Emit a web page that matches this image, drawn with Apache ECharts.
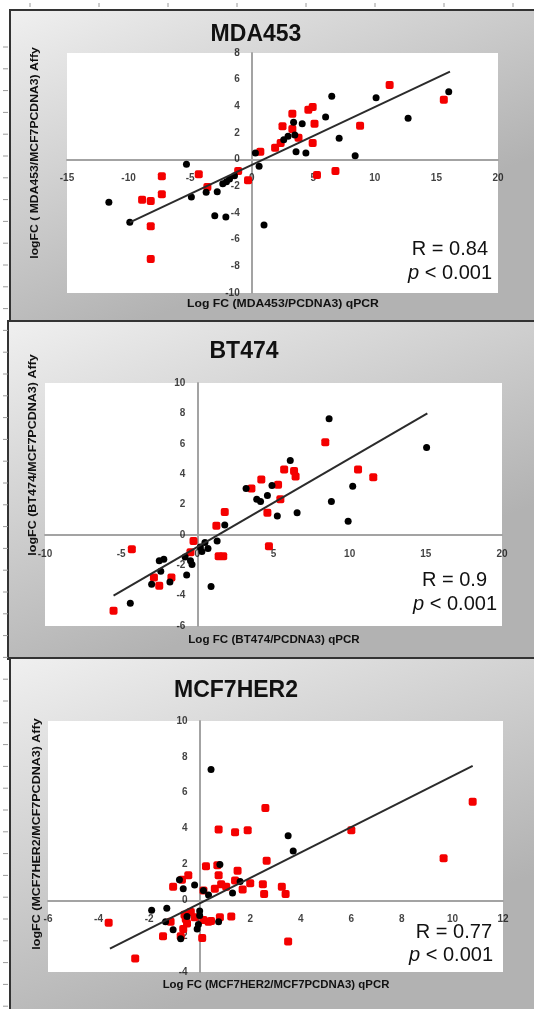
<!DOCTYPE html>
<html>
<head>
<meta charset="utf-8">
<script src="https://cdn.jsdelivr.net/npm/echarts@6/dist/echarts.min.js"></script>
<style>
  html, body { margin: 0; padding: 0; background: #fff; }
  #chart { width: 534px; height: 1009px; }
</style>
</head>
<body>
<div id="chart"></div>
<script>
// MDA453 panel
const mdaBlack = [
  [-11.6, -3.2], [-9.9, -4.7], [-5.3, -0.35], [-4.9, -2.8], [-3.7, -2.45], [-2.8, -2.4],
  [-3.0, -4.2], [-2.1, -4.3], [-2.35, -1.8], [-2.05, -1.65], [-1.8, -1.45], [-1.4, -1.2],
  [0.6, -0.5], [0.3, 0.5], [1.0, -4.9], [2.6, 1.5], [2.95, 1.75], [3.5, 1.85], [3.6, 0.6],
  [3.4, 2.8], [4.1, 2.7], [4.4, 0.5], [6.0, 3.2], [6.5, 4.75], [7.1, 1.6], [8.4, 0.3],
  [10.1, 4.65], [12.7, 3.1], [16.0, 5.1]
];
const mdaRed = [
  [-8.9, -3.0], [-8.2, -3.1], [-7.3, -1.25], [-7.3, -2.6], [-8.2, -5.0], [-8.2, -7.45],
  [-4.3, -1.1], [-3.6, -2.05], [-1.1, -0.85], [-0.3, -1.55], [0.7, 0.6], [1.9, 0.9],
  [2.35, 1.25], [2.5, 2.5], [3.3, 3.45], [3.3, 2.3], [3.8, 1.65], [4.6, 3.75], [4.95, 3.95],
  [5.1, 2.7], [4.95, 1.25], [5.3, -1.15], [6.8, -0.85], [8.8, 2.55], [11.2, 5.6], [15.6, 4.5]
];
const mdaFit = [[-9.9, -4.7], [16.1, 6.6]];

// BT474 panel
const btBlack = [
  [-4.4, -4.5], [-3.0, -3.25], [-2.5, -1.7], [-2.2, -1.6], [-2.4, -2.4], [-1.8, -3.1],
  [-0.8, -1.45], [-0.45, -1.7], [-0.35, -1.95], [-0.7, -2.65], [0.2, -0.8], [0.5, -0.5],
  [0.7, -0.9], [0.3, -1.1], [0.9, -3.4], [1.3, -0.4], [1.8, 0.65], [3.2, 3.05], [3.9, 2.35],
  [4.15, 2.2], [4.6, 2.6], [4.9, 3.25], [5.25, 1.25], [6.1, 4.9], [6.55, 1.45], [8.65, 7.65],
  [8.8, 2.2], [9.9, 0.9], [10.2, 3.2], [15.05, 5.75]
];
const btRed = [
  [-5.5, -5.0], [-4.3, -0.95], [-2.85, -2.8], [-2.5, -3.35], [-1.7, -2.8], [-0.45, -1.15],
  [-0.25, -0.4], [1.4, -1.4], [1.7, -1.4], [1.25, 0.6], [1.8, 1.5], [3.55, 3.05], [4.2, 3.65],
  [4.6, 1.45], [4.7, -0.75], [5.3, 3.3], [5.45, 2.35], [5.7, 4.3], [6.35, 4.2], [6.45, 3.85],
  [8.4, 6.1], [10.55, 4.3], [11.55, 3.8]
];
const btFit = [[-5.5, -4.0], [15.1, 8.0]];

// MCF7HER2 panel
const mcfBlack = [
  [0.45, 7.3], [3.5, 3.6], [3.7, 2.75], [0.8, 2.0], [-0.8, 1.15], [-0.2, 0.85], [-0.65, 0.65],
  [0.35, 0.3], [0.15, 0.55], [1.3, 0.4], [1.6, 1.05], [-1.9, -0.55], [-1.3, -0.45],
  [-1.35, -1.2], [-1.05, -1.65], [-0.75, -2.15], [0.0, -0.6], [0.0, -0.85], [-0.1, -1.6],
  [-0.05, -1.35], [0.75, -1.2], [-0.5, -0.9]
];
const mcfRed = [
  [-3.6, -1.25], [-2.55, -3.25], [-1.45, -2.0], [-1.15, -1.2], [-1.05, 0.75], [-0.7, 1.15],
  [-0.45, 1.4], [-0.75, -2.0], [-0.65, -1.6], [-0.55, -1.05], [-0.35, -0.65], [-0.2, -0.95],
  [-0.5, -1.3], [-0.6, -0.8], [0.1, -2.1], [0.15, -1.1], [0.35, -1.2], [0.45, -1.15],
  [0.15, 0.55], [0.25, 1.9], [0.7, 1.95], [0.75, 1.4], [0.75, 3.95], [0.6, 0.65], [0.85, 0.9],
  [1.05, 0.75], [0.8, -0.95], [1.25, -0.9], [1.4, 1.1], [1.5, 1.65], [1.4, 3.8], [1.9, 3.9],
  [1.7, 0.6], [2.0, 0.95], [2.5, 0.9], [2.55, 0.35], [2.65, 2.2], [2.6, 5.15], [3.25, 0.75],
  [3.4, 0.35], [3.5, -2.3], [6.0, 3.9], [9.65, 2.35], [10.8, 5.5]
];
const mcfFit = [[-3.55, -2.7], [10.8, 7.5]];

const titles = ['MDA453', 'BT474', 'MCF7HER2'];
const rLabels = ['R = 0.84', 'R = 0.9', 'R = 0.77'];
const xNames = [
  'Log FC (MDA453/PCDNA3) qPCR',
  'Log FC (BT474/PCDNA3) qPCR',
  'Log FC (MCF7HER2/MCF7PCDNA3) qPCR'
];
const yNames = [
  'logFC ( MDA453/MCF7PCDNA3) Affy',
  'logFC (BT474/MCF7PCDNA3) Affy',
  'logFC (MCF7HER2/MCF7PCDNA3) Affy'
];
// tick labels, drawn next to the zero lines like Excel does
const xTicks = [
  [-15, -10, -5, 0, 5, 10, 15, 20],
  [-10, -5, 0, 5, 10, 15, 20],
  [-6, -4, -2, 0, 2, 4, 6, 8, 10, 12]
];
const yTicks = [
  [-10, -8, -6, -4, -2, 0, 2, 4, 6, 8],
  [-6, -4, -2, 0, 2, 4, 6, 8, 10],
  [-4, -2, 0, 2, 4, 6, 8, 10]
];

const blackSets = [mdaBlack, btBlack, mcfBlack];
const redSets = [mdaRed, btRed, mcfRed];
const fitSets = [mdaFit, btFit, mcfFit];

// page layout, pixels (sx/sy = horizontal stretch of the axis titles)
const panels = [
  { box: [10, 10, 530, 312], grid: [67, 53, 431, 240], title: [256, 35], r: [488, 249], p: [492, 273], yl: [35, 153], xl: [283, 304], sx: 1.22, sy: 1.22 },
  { box: [8, 321, 532, 338], grid: [45, 383, 457, 243], title: [244, 352], r: [487, 580], p: [497, 604], yl: [33, 455], xl: [274, 640], sx: 1.16, sy: 1.25 },
  { box: [10, 658, 530, 360], grid: [48, 721, 455, 251], title: [236, 691], r: [492, 932], p: [493, 955], yl: [37, 834], xl: [276, 985], sx: 1.14, sy: 1.25 }
];

const FONT = 'Liberation Sans, Arial, sans-serif';

const tickLabelStyle = {
  show: true,
  fontSize: 10,
  fontWeight: 'bold',
  fontFamily: FONT,
  color: '#111',
};

const grid = [];
const xAxis = [];
const yAxis = [];
const series = [];
const graphic = [];

panels.forEach((pn, i) => {
  const axisBase = {
    type: 'value',
    gridIndex: i,
    axisLine: { onZero: true, lineStyle: { color: '#a3a3a3', width: 2 } },
    axisTick: { show: false },
    splitLine: { show: false },
    axisLabel: { show: false },
  };
  grid.push({
    left: pn.grid[0], top: pn.grid[1], width: pn.grid[2], height: pn.grid[3],
    show: true, backgroundColor: '#fff', borderWidth: 0,
  });
  xAxis.push(Object.assign({}, axisBase, {
    min: xTicks[i][0], max: xTicks[i][xTicks[i].length - 1], interval: xTicks[i][1] - xTicks[i][0],
  }));
  yAxis.push(Object.assign({}, axisBase, {
    min: yTicks[i][0], max: yTicks[i][yTicks[i].length - 1], interval: yTicks[i][1] - yTicks[i][0],
  }));

  // tick labels placed on the zero lines
  series.push({
    type: 'scatter', xAxisIndex: i, yAxisIndex: i, silent: true,
    symbolSize: 0, z: 2,
    label: Object.assign({}, tickLabelStyle, {
      position: 'bottom', distance: 14, formatter: (p) => String(p.value[0]),
    }),
    data: xTicks[i].map(t => [t, 0]),
  });
  series.push({
    type: 'scatter', xAxisIndex: i, yAxisIndex: i, silent: true,
    symbolSize: 0, z: 2,
    label: Object.assign({}, tickLabelStyle, {
      position: 'left', distance: 12, formatter: (p) => String(p.value[1]),
    }),
    data: yTicks[i].map(t => [0, t]),
  });

  series.push({
    type: 'scatter', xAxisIndex: i, yAxisIndex: i,
    symbol: 'roundRect', symbolSize: 8,
    itemStyle: { color: '#f40000', opacity: 1 },
    data: redSets[i], z: 3,
  });
  series.push({
    type: 'scatter', xAxisIndex: i, yAxisIndex: i,
    symbol: 'circle', symbolSize: 7,
    itemStyle: { color: '#000', opacity: 1 },
    data: blackSets[i], z: 4,
  });
  series.push({
    type: 'line', xAxisIndex: i, yAxisIndex: i,
    showSymbol: false, silent: true,
    lineStyle: { color: '#2b2b2b', width: 2 },
    data: fitSets[i], z: 5,
  });

  graphic.push({
    type: 'rect', z: -10,
    shape: { x: pn.box[0], y: pn.box[1], width: pn.box[2], height: pn.box[3] },
    style: {
      fill: new echarts.graphic.LinearGradient(0, 0, 0.25, 1, [
        { offset: 0, color: '#f0f0f0' },
        { offset: 1, color: '#b2b2b2' },
      ]),
      stroke: '#333', lineWidth: 2,
    },
  });
  graphic.push({
    type: 'text', z: 50, x: pn.title[0], y: pn.title[1],
    style: { text: titles[i], font: 'bold 23px ' + FONT, fill: '#111', align: 'center', verticalAlign: 'middle' },
  });
  graphic.push({
    type: 'text', z: 50, x: pn.r[0], y: pn.r[1],
    style: { text: rLabels[i], font: '20px ' + FONT, fill: '#111', align: 'right', verticalAlign: 'middle' },
  });
  graphic.push({
    type: 'text', z: 50, x: pn.p[0], y: pn.p[1],
    style: {
      text: '{i|p} < 0.001', font: '20px ' + FONT, fill: '#111', align: 'right', verticalAlign: 'middle',
      rich: { i: { fontStyle: 'italic', fontSize: 20, fontFamily: FONT, fill: '#111' } },
    },
  });
  graphic.push({
    type: 'text', z: 50, x: pn.xl[0], y: pn.xl[1], scaleX: pn.sx,
    style: { text: xNames[i], font: 'bold 10px ' + FONT, fill: '#111', align: 'center', verticalAlign: 'middle' },
  });
  graphic.push({
    type: 'text', z: 50, x: pn.yl[0], y: pn.yl[1], rotation: Math.PI / 2, scaleX: pn.sy,
    style: { text: yNames[i], font: 'bold 10px ' + FONT, fill: '#111', align: 'center', verticalAlign: 'middle' },
  });
});

// ruler ticks in the white page margin of the screenshot
for (let y = 47; y < 1009; y += 21.8) {
  graphic.push({ type: 'line', z: -5, shape: { x1: 3, y1: y, x2: 8, y2: y }, style: { stroke: '#9a9a9a', lineWidth: 1 } });
}
for (let x = 30; x < 534; x += 69) {
  graphic.push({ type: 'line', z: -5, shape: { x1: x, y1: 3, x2: x, y2: 7 }, style: { stroke: '#9a9a9a', lineWidth: 1 } });
}

const myChart = echarts.init(document.getElementById('chart'), null, { renderer: 'canvas' });
myChart.setOption({
  animation: false,
  backgroundColor: '#fff',
  grid,
  xAxis,
  yAxis,
  series,
  graphic: { elements: graphic },
});
</script>
</body>
</html>
